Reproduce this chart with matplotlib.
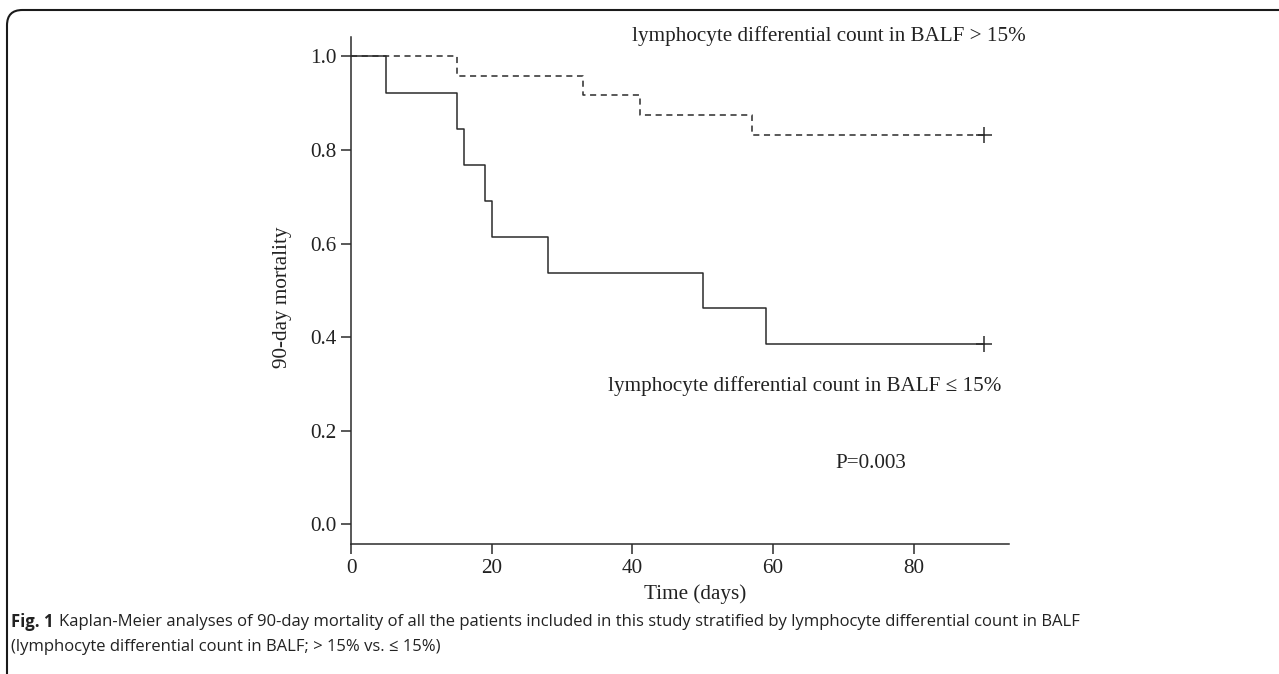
import matplotlib
matplotlib.use("Agg")
import matplotlib.pyplot as plt
from matplotlib.patches import FancyBboxPatch
import numpy as np

# Kaplan-Meier step data
low_times = [0, 5, 15, 16, 19, 20, 28, 50, 59, 90]
low_surv = [1.0, 0.923, 0.846, 0.769, 0.692, 0.615, 0.538, 0.462, 0.385, 0.385]
high_times = [0, 15, 33, 41, 57, 90]
high_surv = [1.0, 0.958, 0.917, 0.875, 0.833, 0.833]
x_ticks = [0, 20, 40, 60, 80]
y_ticks = [0.0, 0.2, 0.4, 0.6, 0.8, 1.0]

label_high = "lymphocyte differential count in BALF > 15%"
label_low = "lymphocyte differential count in BALF \u2264 15%"
p_text = "P=0.003"
cap_bold = "Fig. 1"
cap_line1 = ("Kaplan-Meier analyses of 90-day mortality of all the patients included in this "
             "study stratified by lymphocyte differential count in BALF")
cap_line2 = "(lymphocyte differential count in BALF; > 15% vs. \u2264 15%)"

W, H = 1279, 674
fig = plt.figure(figsize=(W / 100, H / 100), dpi=100)

serif = ["Liberation Serif", "DejaVu Serif"]
fs = 15.2
tc = "#222222"
ax = fig.add_axes([351.3 / W, 1 - 544 / H, (1009.3 - 351.3) / W, (544 - 37.3) / H])
col = "#2b2b2b"
ax.step(low_times, low_surv, where="post", color=col, lw=1.1)
ax.step(high_times, high_surv, where="post", color=col, lw=1.1, ls=(0, (4, 3)))
ax.plot([low_times[-1]], [low_surv[-1]], marker="+", color=col, ms=11, mew=1.1)
ax.plot([high_times[-1]], [high_surv[-1]], marker="+", color=col, ms=11, mew=1.1)

ax.set_xlim(0, 93.6)
ax.set_ylim(-0.042, 1.041)
ax.set_xticks(x_ticks)
ax.set_yticks(y_ticks)
ax.set_xticklabels([str(t) for t in x_ticks], fontfamily=serif, fontsize=fs)
ax.set_yticklabels([f"{t:.1f}" for t in y_ticks], fontfamily=serif, fontsize=fs)
ax.tick_params(direction="out", length=7.5, width=1.1, color=col, labelcolor=tc, pad=3)
for s in ["top", "right"]:
    ax.spines[s].set_visible(False)
for s in ["left", "bottom"]:
    ax.spines[s].set_linewidth(1.1)
    ax.spines[s].set_color(col)

fig.text(283 / W, 1 - 297 / H, "90-day mortality", rotation=90, ha="center", va="center",
         fontfamily=serif, fontsize=fs, color=tc)
fig.text(695 / W, 1 - 594 / H, "Time (days)", ha="center", va="center",
         fontfamily=serif, fontsize=fs, color=tc)
fig.text(829 / W, 1 - 36 / H, label_high, ha="center", va="center",
         fontfamily=serif, fontsize=fs, color=tc)
fig.text(805 / W, 1 - 386 / H, label_low, ha="center", va="center",
         fontfamily=serif, fontsize=fs, color=tc)
fig.text(871 / W, 1 - 464 / H, p_text, ha="center", va="center",
         fontfamily=serif, fontsize=fs, color=tc)

# caption
sans = ["Open Sans", "DejaVu Sans"]
cfs = 12
x0 = 11
t1 = fig.text(x0 / W, 1 - 622 / H, cap_bold, ha="left", va="center", fontfamily=sans,
              fontsize=cfs, fontweight="bold", color=tc)
fig.canvas.draw()
bb = t1.get_window_extent()
t2 = fig.text((bb.x1 + 5) / W, 1 - 622 / H, cap_line1,
              ha="left", va="center", fontfamily=sans, fontsize=cfs, color=tc)
t3 = fig.text(x0 / W, 1 - 647 / H, cap_line2,
              ha="left", va="center", fontfamily=sans, fontsize=cfs, color=tc)

# border
box = FancyBboxPatch((7 / W, -0.2), 1.2, 1 - 10 / H + 0.2,
                     boxstyle="round,pad=0,rounding_size=0.012",
                     transform=fig.transFigure, fill=False, ec="#1a1a1a", lw=1.5,
                     mutation_aspect=W / H)
fig.patches.append(box)

fig.savefig("out.png", dpi=100)
